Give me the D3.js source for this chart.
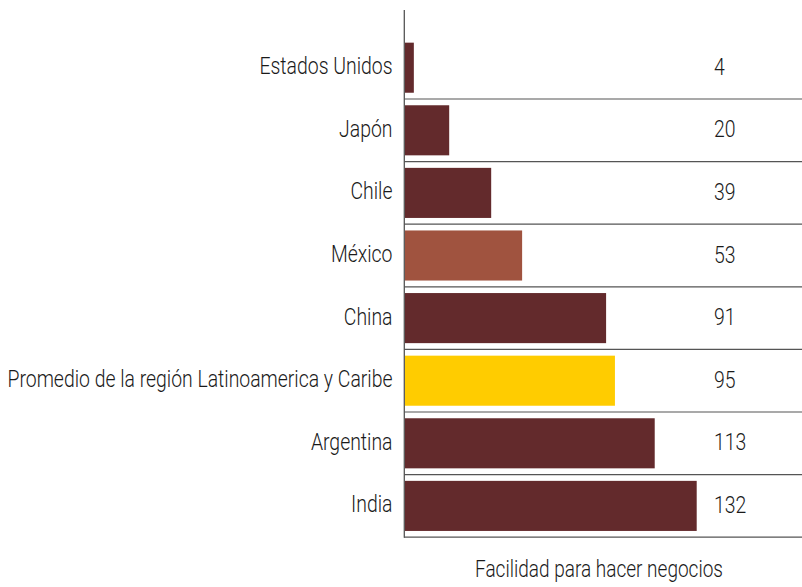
<!DOCTYPE html>
<html>
<head>
<meta charset="utf-8">
<script src="https://cdn.jsdelivr.net/npm/d3@7"></script>
<style>
  html, body { margin: 0; padding: 0; background: #fff; }
  svg { display: block; }
  text { font-family: Roboto, "Liberation Sans", sans-serif; font-weight: 300; fill: #1a1a1a; }
</style>
</head>
<body>
<svg id="chart" width="802" height="587"></svg>
<script>
const categories = ["Estados Unidos", "Japón", "Chile", "México", "China",
  "Promedio de la región Latinoamerica y Caribe", "Argentina", "India"];
const values = [4, 20, 39, 53, 91, 95, 113, 132];
const barColors = ["#632a2c", "#632a2c", "#632a2c", "#a0533f", "#632a2c", "#ffcc00", "#632a2c", "#632a2c"];
const axisTitle = "Facilidad para hacer negocios";

const svg = d3.select("#chart");
const data = categories.map((c, i) => ({ c, v: values[i], color: barColors[i] }));

const x = d3.scaleLinear().domain([0, 132]).range([405, 696.7]);
const y = d3.scaleBand().domain(categories).range([36.4, 537.2]).paddingInner(0.2).paddingOuter(0.1);

// row separators
const step = y.step();
const seps = categories.map((c, i) => 36.4 + step * (i + 1));
svg.append("g").selectAll("line").data(seps).join("line")
  .attr("x1", 404).attr("x2", 802)
  .attr("y1", d => d).attr("y2", d => d)
  .attr("stroke", "#555").attr("stroke-width", 1.2);

// bars
svg.append("g").selectAll("rect").data(data).join("rect")
  .attr("x", x(0))
  .attr("y", d => y(d.c))
  .attr("width", d => x(d.v) - x(0))
  .attr("height", y.bandwidth())
  .attr("fill", d => d.color);

// vertical axis line
svg.append("line")
  .attr("x1", 404.3).attr("x2", 404.3).attr("y1", 10).attr("y2", 537.8)
  .attr("stroke", "#555").attr("stroke-width", 1.3);

const FS = 23;
// category labels
const catLabels = svg.append("g").selectAll("text").data(data).join("text")
  .attr("x", 392.5)
  .attr("y", d => y(d.c) + y.bandwidth() / 2 + 6.5)
  .attr("text-anchor", "end")
  .attr("font-size", FS)
  .text(d => d.c);

// value labels
const valLabels = svg.append("g").selectAll("text").data(data).join("text")
  .attr("x", 714)
  .attr("y", d => y(d.c) + y.bandwidth() / 2 + 7)
  .attr("font-size", FS)
  .text(d => d.v);

// axis title
const title = svg.append("text")
  .attr("x", 599).attr("y", 577)
  .attr("text-anchor", "middle")
  .attr("font-size", 24)
  .text(axisTitle);

// condense text uniformly to mimic a condensed face
const ref = catLabels.filter(d => d.c.startsWith("Promedio")).node();
const k = 385 / ref.getComputedTextLength();
svg.selectAll("text").each(function() {
  const w = this.getComputedTextLength();
  d3.select(this).attr("textLength", w * k).attr("lengthAdjust", "spacingAndGlyphs");
});
title.attr("textLength", 248);
</script>
</body>
</html>
